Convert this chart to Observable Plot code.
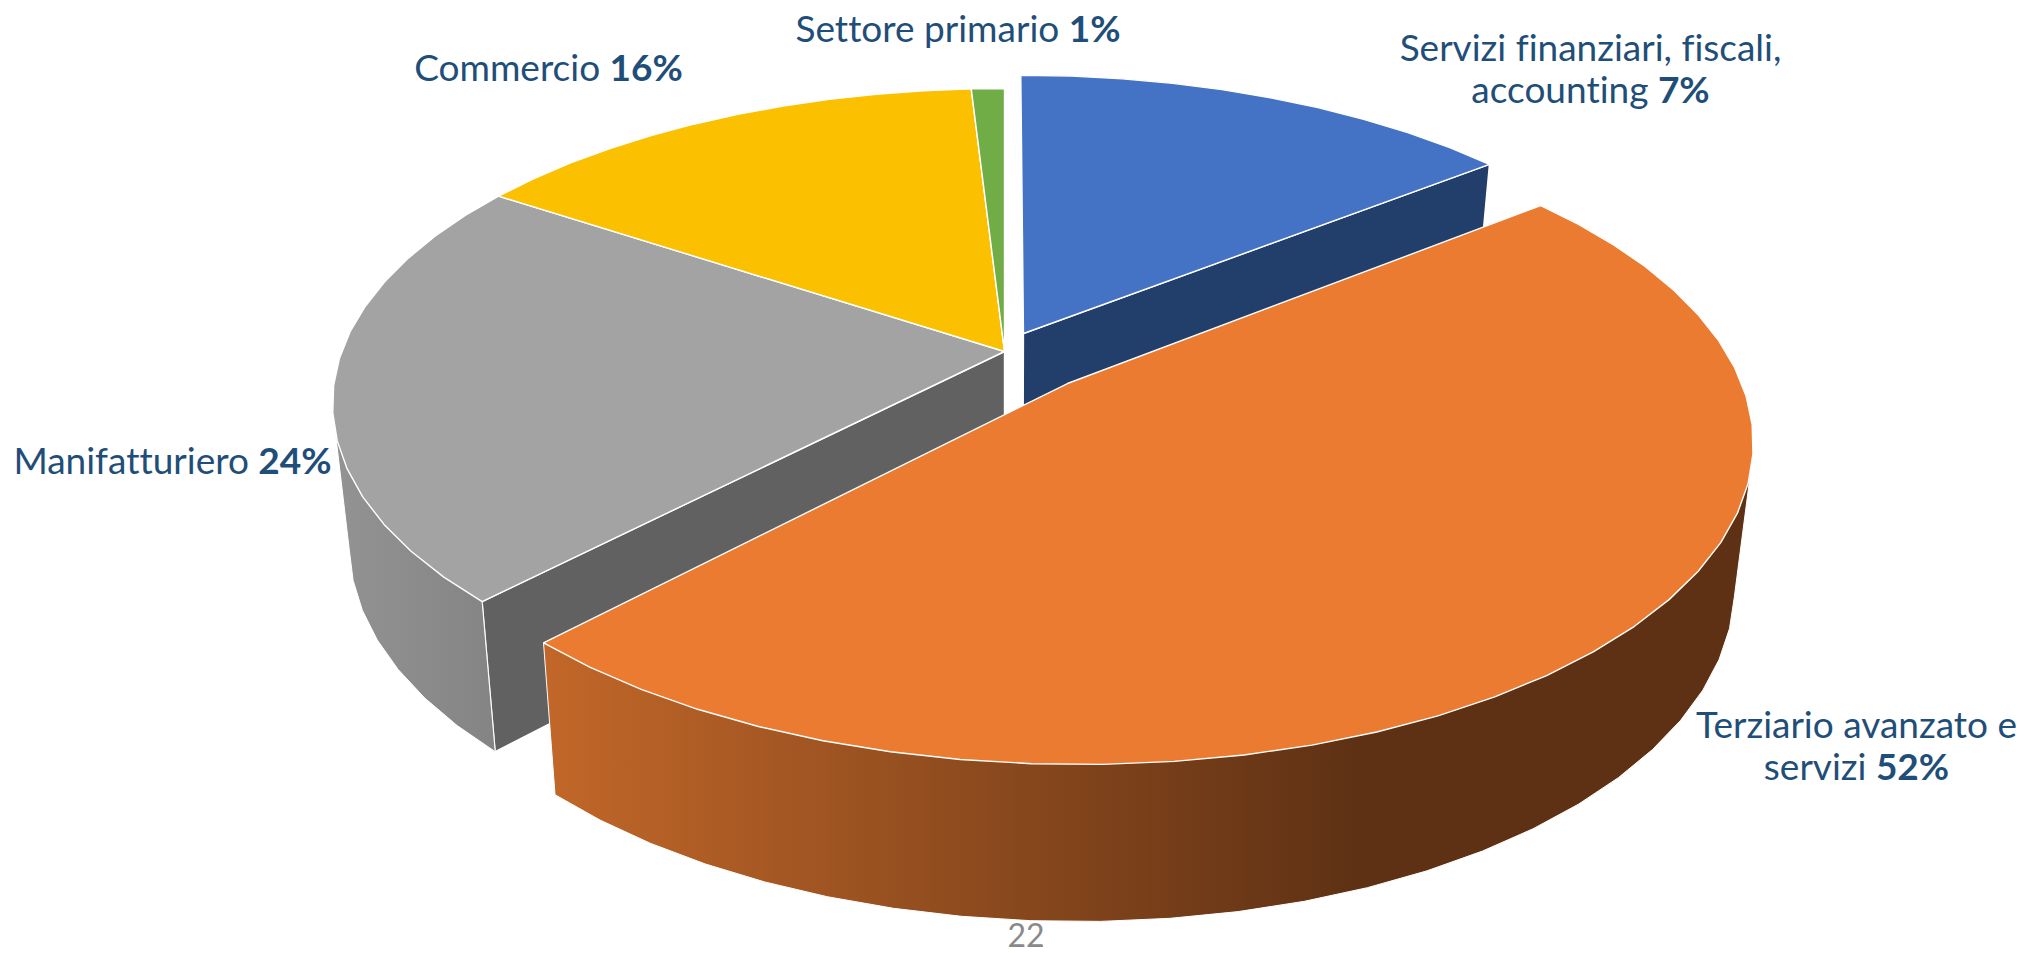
<!DOCTYPE html>
<html lang="it">
<head>
<meta charset="utf-8">
<title>Settori</title>
<style>
html,body{margin:0;padding:0;background:#fff;overflow:hidden}
svg{display:block}
svg text{font-variant-ligatures:none}
</style>
<script src="https://cdn.jsdelivr.net/npm/d3@7"></script>
<script src="https://cdn.jsdelivr.net/npm/@observablehq/plot@0.6"></script>
</head>
<body>
<script>
// Sectors, clockwise from twelve o'clock
const sectors = ["Servizi", "Terziario", "Manifatturiero", "Commercio", "Primario"];
// Share of the turn each slice covers in the picture (the printed labels differ from it)
const drawnShare = [14.36, 47.86, 22.11, 14.74, 0.93];
const topColors = ["#4472C4", "#EA7B30", "#A3A3A3", "#FBC000", "#70AD47"];
const labelLines = ["Settore primario 1%", "Servizi finanziari, fiscali,", "accounting 7%", "Commercio 16%", "Manifatturiero 24%", "Terziario avanzato e", "servizi 52%"];
const labelX = [957.5, 1590, 1590, 548, 172, 1856, 1856];
const labelY = [41, 60, 102, 80, 473, 737, 779];
const pageNumber = ["22"];

// Layout
const W = 2026, H = 953;
const apex = [1004, 351];
const A = 662.8, B = 306.4, K = 0.165;     // perspective disc
const explode = [[0.0289, -0.0593], [0.0934, 0.1027], [0, 0], [0, 0], [0, 0]];
const shrink = 0.975, thick = 124.2, stretch = 1.043;
const STEP = 5;

const ends = [0, ...d3.cumsum(drawnShare)].map(d => d * 3.6);
const topPoint = (i, deg, r = 1) => {
  const t = deg * Math.PI / 180;
  const u = explode[i][0] + r * Math.sin(t), v = explode[i][1] - r * Math.cos(t);
  const w = 1 - K * v;
  return {x: apex[0] + A * u / w, y: apex[1] + B * v / w};
};
const lower = p => ({x: apex[0] + (p.x - apex[0]) * shrink, y: p.y * stretch + thick});
const arc = (i, a0, a1) => {
  const pts = [];
  const n = Math.max(1, Math.round((a1 - a0) / STEP));
  for (let j = 0; j <= n; ++j) pts.push(topPoint(i, a0 + (a1 - a0) * j / n));
  return pts;
};
const closed = pts => [...pts, pts[0]];
const topFace = i => closed([topPoint(i, 0, 0), ...arc(i, ends[i], ends[i + 1])]);
// The outer wall is the hull of the upper and lower rims, so its sides run along the tangents
const wall = (i, a0, a1) => {
  const t = arc(i, a0, a1);
  return closed(d3.polygonHull([...t, ...t.map(lower)].map(p => [p.x, p.y])).map(([x, y]) => ({x, y})));
};
const cut = (i, deg) => { const a = topPoint(i, 0, 0), b = topPoint(i, deg); return closed([a, b, lower(b), lower(a)]); };

const face = (pts, fill, sw = 1.4) => Plot.line(pts, {x: "x", y: "y", fill, stroke: "#fff", strokeWidth: sw, strokeLinejoin: "miter"});

const chart = Plot.plot({
  width: W, height: H, margin: 0,
  x: {domain: [0, W], range: [0, W], axis: null},
  y: {domain: [0, H], range: [0, H], axis: null},
  style: {background: "#fff"},
  marks: [
    face(cut(2, ends[2]), "#616161"),
    face(wall(2, ends[2], 290), "url(#grayWall)", 1),
    face(cut(0, ends[1]), "#223E6A"),
    face(topFace(2), topColors[2]),
    face(topFace(3), topColors[3]),
    face(topFace(4), topColors[4]),
    face(topFace(0), topColors[0]),
    face(wall(1, ends[1], ends[2]), "url(#orangeWall)", 1),
    face(topFace(1), topColors[1]),
    Plot.text(labelLines, {
      x: (d, i) => labelX[i], y: (d, i) => labelY[i], text: d => d,
      fontFamily: "Lato", fontSize: 37, fill: "#1F4E79", textAnchor: "middle", lineAnchor: "bottom"
    }),
    Plot.text(pageNumber, {
      x: () => 1025.5, y: () => 946, text: d => d,
      fontFamily: "Lato", fontSize: 32, fill: "#898989", textAnchor: "middle", lineAnchor: "bottom"
    })
  ]
});

// Gradients for the outer walls
const defs = d3.select(chart).insert("defs", ":first-child");
const gradient = (id, stops) => {
  const g = defs.append("linearGradient").attr("id", id).attr("x1", 0).attr("x2", 1).attr("y1", 0).attr("y2", 0);
  stops.forEach(([o, c]) => g.append("stop").attr("offset", o).attr("stop-color", c));
};
gradient("orangeWall", [[0, "#C26729"], [0.674, "#5E3114"], [1, "#5E3114"]]);
gradient("grayWall", [[0, "#939393"], [1, "#848484"]]);

// Bold percentages inside the labels
d3.select(chart).selectAll("text").each(function () {
  const leaves = this.querySelectorAll("tspan").length ? this.querySelectorAll("tspan") : [this];
  leaves.forEach(leaf => {
    const m = leaf.textContent.match(/^(.*\s)(\d+%)$/);
    if (!m) return;
    leaf.textContent = m[1];
    d3.select(leaf).append("tspan").attr("font-weight", 700).text(m[2]);
  });
});
document.body.appendChild(chart);
</script>
</body>
</html>
